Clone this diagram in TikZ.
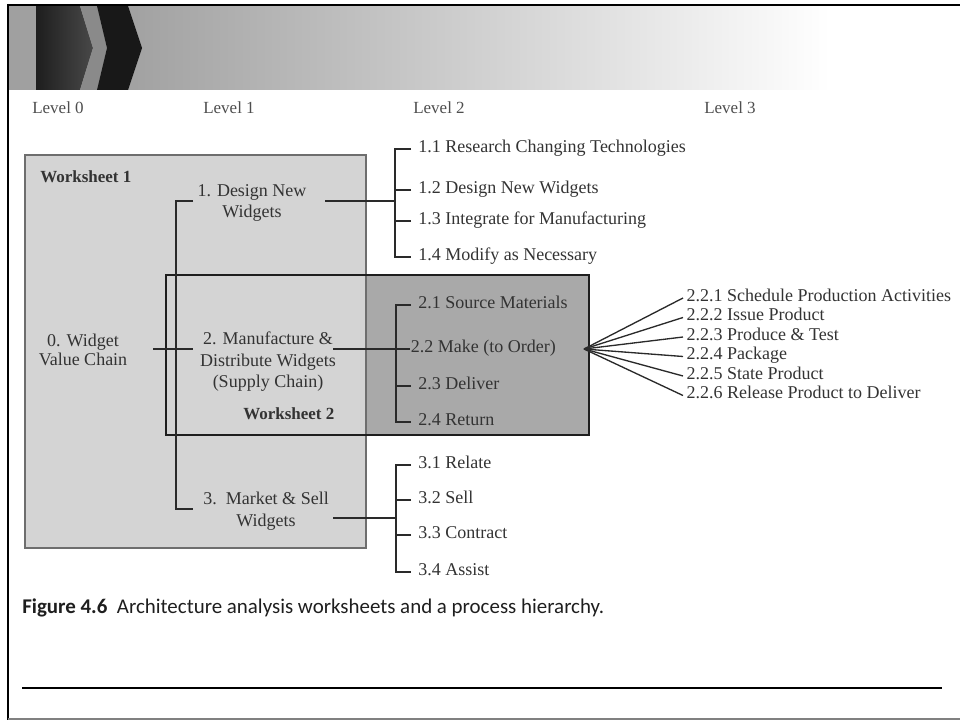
\documentclass[tikz,border=0pt]{standalone}
\usepackage{fontspec}
\setmainfont{Liberation Serif}
\newfontfamily\capfont{Carlito}
\definecolor{inkc}{HTML}{333333}
\definecolor{levc}{HTML}{4E4E4E}
\definecolor{linec}{HTML}{2A2A2A}
\definecolor{wsone}{HTML}{D4D4D4}
\definecolor{wstwo}{HTML}{A9A9A9}
\definecolor{bandc}{HTML}{959595}
\definecolor{stripc}{HTML}{A0A0A0}
\definecolor{chevdark}{HTML}{1E1E1E}
\definecolor{chevmid}{HTML}{484848}
\definecolor{chevgap}{HTML}{8A8A8A}
\definecolor{chevblack}{HTML}{181818}
\definecolor{wsoneline}{HTML}{6E6E6E}
\definecolor{wstwoline}{HTML}{1E1E1E}
\definecolor{capc}{HTML}{1E1E1E}
\begin{document}
\begin{tikzpicture}[x=0.75pt,y=-0.75pt,
  every node/.style={inner sep=0pt, text=inkc},
  txt/.style={font=\fontsize{13.5}{16.2}\selectfont},
  level/.style={font=\fontsize{12.75}{15.75}\selectfont, text=levc},
  item/.style={txt, align=center},
  leaf/.style={txt, anchor=mid west, inner xsep=5.25pt},
  fan/.style={txt, anchor=mid west, inner xsep=2.5pt},
  wslabel/.style={font=\fontsize{12.75}{15.75}\selectfont\bfseries, anchor=west},
  link/.style={draw=linec, line width=1.1pt}]
\useasboundingbox (0,0) rectangle (960,723);

% header band with chevrons
\shade[left color=bandc, right color=white] (36,6) rectangle (830,90);
\fill[stripc] (8,6) rectangle (36,90);
\shade[left color=chevdark, right color=chevmid]
  (36,6) -- (80,6) -- (93,48) -- (80,90) -- (36,90) -- cycle;
\fill[chevgap] (80,6) -- (97,6) -- (107,48) -- (97,90) -- (80,90) -- (93,48) -- cycle;
\fill[chevblack] (97,6) -- (128,6) -- (142,48) -- (128,90) -- (97,90) -- (107,48) -- cycle;

% frame
\draw[black, line width=2.2pt] (8,4) -- (8,720);
\draw[black, line width=1.8pt] (7,5) -- (960,5);
\draw[gray, line width=1.6pt] (8,719) -- (960,719);

% level headings
\node[level] (lv0) at (58,108) {Level 0};
\node[level] (lv1) at (229,108) {Level 1};
\node[level] (lv2) at (439,108) {Level 2};
\node[level] (lv3) at (730,108) {Level 3};

% worksheets
\fill[wstwo] (366,275) rectangle (589,435);
\draw[fill=wsone, draw=wsoneline, line width=0.8pt] (25,155) rectangle (366,548);
\draw[draw=wstwoline, line width=1.5pt] (166,275) rectangle (589,435);
\node[wslabel] (ws1) at (40,177) {Worksheet 1};
\node[wslabel] (ws2) at (243,414) {Worksheet 2};

% level 0 and level 1
\node[item, font=\fontsize{13.5}{14.6}\selectfont] (n0) at (83,350) {0. Widget\\Value Chain};
\node[item] (n1) at (252,203) {1. Design New\\Widgets};
\node[item] (n2) at (268,362) {2. Manufacture \&\\Distribute Widgets\\(Supply Chain)};
\node[item] (n3) at (266,511) {3.\ \ Market \& Sell\\Widgets};

\coordinate (s0) at (176,349);
\coordinate (n0r) at (153,349);
\coordinate (n1l) at (193,201);
\coordinate (n2l) at (193,349);
\coordinate (n3l) at (193,509);
\coordinate (n1r) at (325,201);
\coordinate (n2r) at (333,349);
\coordinate (n3r) at (333,518);
\draw[link] (n1l) -| (s0) |- (n3l);
\draw[link] (n0r) -- (n2l);

% level 2: design
\node[leaf] (t11) at (411,149) {1.1 Research Changing Technologies};
\node[leaf] (t12) at (411,190) {1.2 Design New Widgets};
\node[leaf] (t13) at (411,221) {1.3 Integrate for Manufacturing};
\node[leaf] (t14) at (411,257) {1.4 Modify as Necessary};
\path (t11.mid west) ++(-16,0) coordinate (s1a);
\draw[link] (t11.mid west) -- (s1a) |- (t14.mid west);
\draw[link] (t12.mid west) -- (s1a |- t12.mid west);
\draw[link] (t13.mid west) -- (s1a |- t13.mid west);
\draw[link] (n1r) -- (s1a |- n1r);

% level 2: supply chain
\node[leaf] (t21) at (411,305) {2.1 Source Materials};
\node[leaf, inner xsep=0.5pt] (t22) at (410,349) {2.2 Make (to Order)};
\node[leaf] (t23) at (411,386) {2.3 Deliver};
\node[leaf] (t24) at (411,422) {2.4 Return};
\path (t21.mid west) ++(-15,0) coordinate (s2a);
\draw[link] (t21.mid west) -- (s2a) |- (t24.mid west);
\draw[link] (t23.mid west) -- (s2a |- t23.mid west);
\draw[link] (n2r) -- (t22.mid west);

% level 2: market and sell
\node[leaf] (t31) at (411,465) {3.1 Relate};
\node[leaf] (t32) at (411,500) {3.2 Sell};
\node[leaf] (t33) at (411,535) {3.3 Contract};
\node[leaf] (t34) at (411,572) {3.4 Assist};
\path (t31.mid west) ++(-15,0) coordinate (s3a);
\draw[link] (t31.mid west) -- (s3a) |- (t34.mid west);
\draw[link] (t32.mid west) -- (s3a |- t32.mid west);
\draw[link] (t33.mid west) -- (s3a |- t33.mid west);
\draw[link] (n3r) -- (s3a |- n3r);

% level 3: make (to order)
\coordinate (hub) at (584,349);
\node[fan] (u1) at (683,298) {2.2.1 Schedule Production Activities};
\node[fan] (u2) at (683,317.5) {2.2.2 Issue Product};
\node[fan] (u3) at (683,337) {2.2.3 Produce \& Test};
\node[fan] (u4) at (683,356.5) {2.2.4 Package};
\node[fan] (u5) at (683,376) {2.2.5 State Product};
\node[fan] (u6) at (683,395.5) {2.2.6 Release Product to Deliver};
\foreach \u in {u1,u2,u3,u4,u5,u6}
  \draw[link, line width=1pt] (hub) -- (\u.mid west);

% caption and rule
\node[anchor=base west, text=capc,
      font=\capfont\fontsize{15.7}{17}\selectfont] (cap) at (22,613)
  {\textbf{Figure 4.6}\ \ Architecture analysis worksheets and a process hierarchy.};
\coordinate (r0) at (22,688);
\coordinate (r1) at (942,688);
\draw[black, line width=1pt] (r0) -- (r1);
\end{tikzpicture}
\end{document}
